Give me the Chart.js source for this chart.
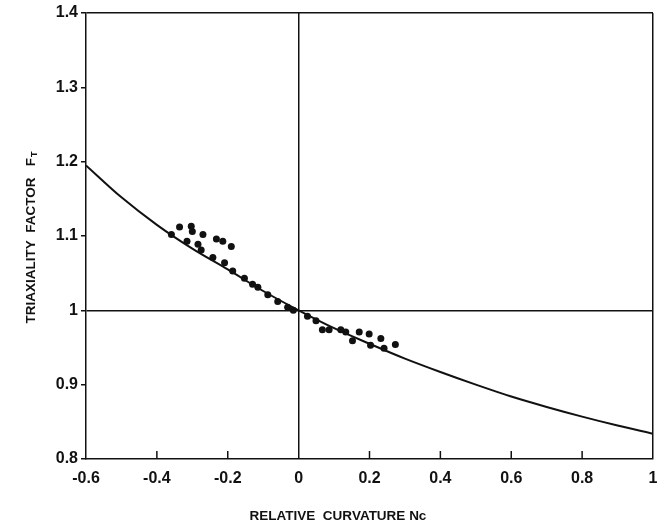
<!DOCTYPE html>
<html>
<head>
<meta charset="utf-8">
<script src="https://cdn.jsdelivr.net/npm/chart.js@4"></script>
<style>
  body { margin: 0; background: #fff; }
  #wrap { width: 657px; height: 528px; position: relative; }
</style>
</head>
<body>
<div id="wrap"><canvas id="mychart"></canvas></div>
<script>
// curve
var curveX = [-0.6, -0.5, -0.4, -0.3, -0.2, -0.1, 0, 0.1, 0.2, 0.3, 0.4, 0.5, 0.6, 0.7, 0.8, 0.9, 1.0];
var curveY = [1.195, 1.152, 1.115, 1.083, 1.055, 1.026, 1.0, 0.976, 0.955, 0.935, 0.917, 0.900, 0.884, 0.870, 0.857, 0.845, 0.834];

// measured points
var dotX = [-0.336, -0.303, -0.300, -0.270, -0.232, -0.214, -0.190, -0.359, -0.315, -0.284, -0.275, -0.242, -0.209, -0.186, -0.153, -0.130, -0.115, -0.087, -0.059, -0.031,
            -0.015, 0.025, 0.049, 0.067, 0.086, 0.119, 0.133, 0.152, 0.171, 0.199, 0.232, 0.203, 0.241, 0.273];
var dotY = [1.112, 1.113, 1.106, 1.102, 1.096, 1.093, 1.086, 1.102, 1.093, 1.089, 1.081, 1.071, 1.064, 1.053, 1.043, 1.035, 1.031, 1.021, 1.012, 1.004,
            1.0, 0.992, 0.986, 0.974, 0.974, 0.974, 0.971, 0.959, 0.971, 0.968, 0.962, 0.953, 0.949, 0.954];

var xTicks = [-0.6, -0.4, -0.2, 0, 0.2, 0.4, 0.6, 0.8, 1];
var yTicks = [0.8, 0.9, 1, 1.1, 1.2, 1.3, 1.4];
var xTitle = 'RELATIVE  CURVATURE Nc';
var yTitle = 'TRIAXIALITY  FACTOR   F';
var ySub = 'T';

var curve = curveX.map(function (v, i) { return { x: v, y: curveY[i] }; });
var dots = dotX.map(function (v, i) { return { x: v, y: dotY[i] }; });

var fam = '"Liberation Sans", Arial, sans-serif';

function near(a, b) { return Math.abs(a - b) < 1e-6; }

var extras = {
    id: 'extras',
    afterDraw: function (chart) {
        var ctx = chart.ctx;
        var xs = chart.scales.x;
        var a = chart.chartArea;
        ctx.save();
        ctx.strokeStyle = '#111';
        ctx.lineWidth = 1.5;
        // inward ticks on the bottom axis
        xTicks.forEach(function (t) {
            if (near(t, -0.6) || near(t, 0) || near(t, 1)) return;
            var px = xs.getPixelForValue(t);
            ctx.beginPath();
            ctx.moveTo(px, a.bottom);
            ctx.lineTo(px, a.bottom - 8);
            ctx.stroke();
        });
        ctx.fillStyle = '#111';
        ctx.font = 'bold 13.5px ' + fam;
        ctx.textBaseline = 'middle';
        ctx.textAlign = 'center';
        ctx.fillText(xTitle, 338, 516);
        // rotated y title with subscript
        ctx.translate(31, 238);
        ctx.rotate(-Math.PI / 2);
        var w = ctx.measureText(yTitle).width;
        ctx.font = 'bold 9px ' + fam;
        var ws = ctx.measureText(ySub).width;
        var start = -(w + ws) / 2;
        ctx.textAlign = 'left';
        ctx.font = 'bold 13.5px ' + fam;
        ctx.fillText(yTitle, start, 0);
        ctx.font = 'bold 9px ' + fam;
        ctx.fillText(ySub, start + w + 1, 4);
        ctx.restore();
    }
};

var ctx = document.getElementById('mychart').getContext('2d');
var mychart = new Chart(ctx, {
    type: 'scatter',
    data: {
        datasets: [{
            data: curve,
            showLine: true,
            borderColor: '#111',
            borderWidth: 2,
            pointRadius: 0,
            tension: 0.4,
            cubicInterpolationMode: 'monotone'
        }, {
            data: dots,
            backgroundColor: '#111',
            borderColor: '#111',
            pointRadius: 3.5,
            borderWidth: 0
        }]
    },
    options: {
        responsive: true,
        maintainAspectRatio: false,
        animation: false,
        layout: { padding: { top: 13, right: 1, left: 0, bottom: 0 } },
        plugins: {
            legend: { display: false },
            tooltip: { enabled: false }
        },
        scales: {
            x: {
                type: 'linear',
                min: -0.6,
                max: 1,
                afterFit: function (s) { s.height = 69; s.paddingRight = 0; s.paddingLeft = 0; },
                afterBuildTicks: function (s) { s.ticks = xTicks.map(function (v) { return { value: v }; }); },
                border: { color: '#111', width: 1.5 },
                grid: {
                    drawTicks: false,
                    lineWidth: 1.5,
                    color: function (c) {
                        var v = c.tick ? c.tick.value : null;
                        return (near(v, 0) || near(v, 1)) ? '#111' : 'rgba(0,0,0,0)';
                    }
                },
                ticks: {
                    padding: 10,
                    color: '#111',
                    font: { family: fam, size: 16, weight: 'bold' },
                    callback: function (v) { return near(v, 0) ? '0' : String(Math.round(v * 10) / 10); }
                }
            },
            y: {
                type: 'linear',
                min: 0.8,
                max: 1.4,
                afterFit: function (s) { s.width = 86; s.paddingTop = 0; s.paddingBottom = 0; },
                afterBuildTicks: function (s) { s.ticks = yTicks.map(function (v) { return { value: v }; }); },
                border: { color: '#111', width: 1.5 },
                grid: {
                    drawTicks: true,
                    tickLength: 5,
                    tickColor: '#111',
                    lineWidth: 1.5,
                    color: function (c) {
                        var v = c.tick ? c.tick.value : null;
                        return (near(v, 1) || near(v, 1.4)) ? '#111' : 'rgba(0,0,0,0)';
                    }
                },
                ticks: {
                    padding: 3,
                    color: '#111',
                    font: { family: fam, size: 16, weight: 'bold' },
                    callback: function (v) { return near(v, 1) ? '1' : String(Math.round(v * 10) / 10); }
                }
            }
        }
    },
    plugins: [extras]
});
</script>
</body>
</html>
